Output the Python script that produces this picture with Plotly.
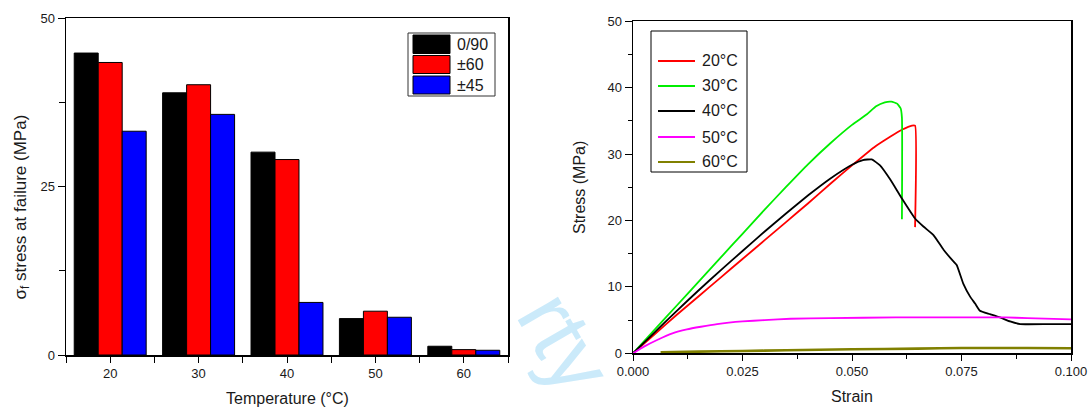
import plotly.graph_objects as go

W, H = 1088, 409

# ---------------- data ----------------
temps = [20, 30, 40, 50, 60]
bar_names = ["0/90", "±60", "±45"]
bar_0_90 = [44.8, 38.9, 30.1, 5.4, 1.3]
bar_pm60 = [43.4, 40.1, 29.0, 6.5, 0.8]
bar_pm45 = [33.2, 35.7, 7.8, 5.6, 0.7]
bar_colors = ["#000000", "#ff0000", "#0000ff"]

curve_names = ["20°C", "30°C", "40°C", "50°C", "60°C"]
curve_colors = ["#ff0000", "#00ee00", "#000000", "#ff00ff", "#808000"]

strain_20 = [0, 0.005, 0.01, 0.015, 0.02, 0.025, 0.03, 0.035, 0.04, 0.045, 0.05, 0.055, 0.0587, 0.0615, 0.0637, 0.0644, 0.0644]
stress_20 = [0, 2.9, 5.8, 8.6, 11.4, 14.2, 17.0, 19.8, 22.6, 25.5, 28.3, 31.0, 32.6, 33.7, 34.3, 34.3, 19.0]

strain_30 = [0, 0.005, 0.01, 0.015, 0.02, 0.025, 0.03, 0.035, 0.04, 0.045, 0.05, 0.0534, 0.0555, 0.0575, 0.059, 0.0603, 0.0611, 0.0614, 0.0614]
stress_30 = [0, 3.6, 7.2, 10.8, 14.4, 18.0, 21.6, 25.1, 28.5, 31.6, 34.4, 36.0, 37.2, 37.8, 37.9, 37.6, 36.9, 35.5, 20.2]

strain_40 = [0, 0.005, 0.01, 0.015, 0.02, 0.025, 0.03, 0.035, 0.04, 0.045, 0.05, 0.0525, 0.0545, 0.0564, 0.0587, 0.0614, 0.0644, 0.0663, 0.0686, 0.0709, 0.0728, 0.0739, 0.0754, 0.077, 0.0781, 0.0792, 0.0815, 0.0838, 0.0861, 0.0884, 0.095, 0.1]
stress_40 = [0, 3.2, 6.4, 9.5, 12.5, 15.4, 18.3, 21.1, 23.8, 26.3, 28.4, 29.1, 29.2, 28.3, 26.2, 23.3, 20.3, 19.1, 17.8, 15.6, 14.1, 13.3, 10.5, 8.5, 7.5, 6.4, 5.9, 5.4, 4.8, 4.4, 4.4, 4.4]

strain_50 = [0, 0.0025, 0.0055, 0.009, 0.0123, 0.0155, 0.0192, 0.025, 0.03, 0.036, 0.045, 0.06, 0.075, 0.085, 0.09, 0.1]
stress_50 = [0, 1.0, 2.0, 3.0, 3.6, 4.0, 4.4, 4.8, 5.0, 5.2, 5.3, 5.4, 5.4, 5.4, 5.3, 5.1]

strain_60 = [0.0063, 0.015, 0.025, 0.035, 0.05, 0.065, 0.075, 0.09, 0.1]
stress_60 = [0.15, 0.25, 0.35, 0.45, 0.6, 0.7, 0.8, 0.8, 0.75]

# ---------------- helpers ----------------
def PX(x):
    return x / W

def PY(y):
    return 1 - y / H

FONT = "Liberation Sans, Arial, sans-serif"
TXT = "#1a1a1a"

fig = go.Figure()

# bars (left)
for name, vals, col in zip(bar_names, [bar_0_90, bar_pm60, bar_pm45], bar_colors):
    fig.add_trace(go.Bar(x=temps, y=vals, name=name, marker=dict(color=col, line=dict(color="#000", width=1)),
                         xaxis="x", yaxis="y", showlegend=False))

# curves (right)
curves = [(strain_20, stress_20), (strain_30, stress_30), (strain_40, stress_40), (strain_50, stress_50), (strain_60, stress_60)]
for (sx, sy), name, col in zip(curves, curve_names, curve_colors):
    fig.add_trace(go.Scatter(x=sx, y=sy, mode="lines", name=name,
                             line=dict(color=col, width=2.6 if name == "60°C" else 1.8, shape="spline", smoothing=0.4),
                             xaxis="x2", yaxis="y2", showlegend=False))

axbase = dict(showgrid=False, zeroline=False, linecolor="#000", linewidth=1.5, tickcolor="#000",
              tickwidth=1, automargin=False, tickfont=dict(family=FONT, size=13, color=TXT))

L_dom_x = [PX(66), PX(508)]
L_dom_y = [PY(355), PY(18)]
R_dom_x = [PX(633), PX(1071)]
R_dom_y = [PY(353.3), PY(21.3)]

fig.update_layout(
    template="none",
    width=W, height=H, margin=dict(l=0, r=0, t=0, b=0, pad=0, autoexpand=False),
    paper_bgcolor="white", plot_bgcolor="white",
    barmode="group", bargap=0.186, bargroupgap=0,
    font=dict(family=FONT, color=TXT),
    xaxis=dict(axbase, domain=L_dom_x, anchor="y", range=[15, 65], tick0=20, dtick=10,
               ticks="outside", ticklen=6, showline=True, mirror=True,
               minor=dict(tick0=15, dtick=5, ticks="outside", ticklen=6, tickcolor="#000")),
    yaxis=dict(axbase, domain=L_dom_y, anchor="x", range=[0, 50], tick0=0, dtick=25,
               ticks="outside", ticklen=7, showline=True, mirror=True,
               minor=dict(dtick=12.5, ticks="outside", ticklen=6, tickcolor="#000")),
    xaxis3=dict(axbase, domain=L_dom_x, overlaying="x", anchor="y", side="top", range=[15, 65], tick0=15, dtick=5,
                ticks="inside", ticklen=6, showticklabels=False, showline=False),
    yaxis3=dict(axbase, domain=L_dom_y, anchor="x", overlaying="y", side="right", range=[0, 50], tick0=0, dtick=12.5,
                ticks="inside", ticklen=6, showticklabels=False, showline=False),
    xaxis2=dict(axbase, domain=R_dom_x, anchor="y2", range=[0, 0.1], tick0=0, dtick=0.025, tickformat=".3f",
                ticks="outside", ticklen=6, showline=True, mirror=True,
                minor=dict(dtick=0.0125, ticks="outside", ticklen=4, tickcolor="#000")),
    yaxis2=dict(axbase, domain=R_dom_y, anchor="x2", range=[0, 50], tick0=0, dtick=10,
                ticks="outside", ticklen=7, showline=True, mirror=True,
                minor=dict(dtick=5, ticks="outside", ticklen=4, tickcolor="#000")),
    xaxis4=dict(axbase, domain=R_dom_x, overlaying="x2", anchor="y2", side="top", range=[0, 0.1], tick0=0, dtick=0.0125,
                ticks="inside", ticklen=5, showticklabels=False, showline=False),
    yaxis4=dict(axbase, domain=R_dom_y, anchor="x2", overlaying="y2", side="right", range=[0, 50], tick0=0, dtick=5,
                ticks="inside", ticklen=5, showticklabels=False, showline=False),
)

shapes = []
annos = []

# axis titles
annos.append(dict(x=PX(21.5), y=PY(207), xref="paper", yref="paper", text="σ<sub>f</sub> stress at failure (MPa)",
                  textangle=-90, showarrow=False, font=dict(family=FONT, size=17, color=TXT),
                  xanchor="center", yanchor="middle"))
annos.append(dict(x=PX(287), y=PY(398), xref="paper", yref="paper", text="Temperature (°C)",
                  showarrow=False, font=dict(family=FONT, size=16, color=TXT), xanchor="center", yanchor="middle"))
annos.append(dict(x=PX(852), y=PY(396), xref="paper", yref="paper", text="Strain",
                  showarrow=False, font=dict(family=FONT, size=16, color=TXT), xanchor="center", yanchor="middle"))
annos.append(dict(x=PX(579), y=PY(188), xref="paper", yref="paper", text="Stress (MPa)", textangle=-90,
                  showarrow=False, font=dict(family=FONT, size=16, color=TXT), xanchor="center", yanchor="middle"))

# left legend
shapes.append(dict(type="rect", xref="paper", yref="paper", x0=PX(408), x1=PX(495), y0=PY(96), y1=PY(33),
                   line=dict(color="#333", width=1), fillcolor="white"))
rows = [(35, 53.5), (55.5, 73.5), (76, 94)]
for (y0, y1), name, col in zip(rows, bar_names, bar_colors):
    shapes.append(dict(type="rect", xref="paper", yref="paper", x0=PX(413), x1=PX(450), y0=PY(y1), y1=PY(y0),
                       line=dict(color="#000", width=1), fillcolor=col))
    annos.append(dict(x=PX(455), y=PY((y0 + y1) / 2), xref="paper", yref="paper", text=name, showarrow=False,
                      font=dict(family=FONT, size=16, color=TXT), xanchor="left", yanchor="middle"))

# right legend
shapes.append(dict(type="rect", xref="paper", yref="paper", x0=PX(651), x1=PX(747), y0=PY(172), y1=PY(31),
                   line=dict(color="#000", width=1), fillcolor="white"))
ly = [61, 86, 111, 137, 162]
for yy, name, col in zip(ly, curve_names, curve_colors):
    shapes.append(dict(type="line", xref="paper", yref="paper", x0=PX(658), x1=PX(695), y0=PY(yy), y1=PY(yy),
                       line=dict(color=col, width=2)))
    annos.append(dict(x=PX(700), y=PY(yy), xref="paper", yref="paper", text=name, showarrow=False,
                      font=dict(family=FONT, size=16, color=TXT), xanchor="left", yanchor="middle"))

# faint watermark
annos.append(dict(x=PX(566), y=PY(342), xref="paper", yref="paper", text="rty", textangle=60, showarrow=False,
                  font=dict(family=FONT, size=88, color="#cbeafa"), xanchor="center", yanchor="middle"))

fig.update_layout(shapes=shapes, annotations=annos)
fig.write_html("out.html", config={"displayModeBar": False, "staticPlot": True},
               post_script="document.body.style.margin='0';document.body.style.overflow='hidden';")
